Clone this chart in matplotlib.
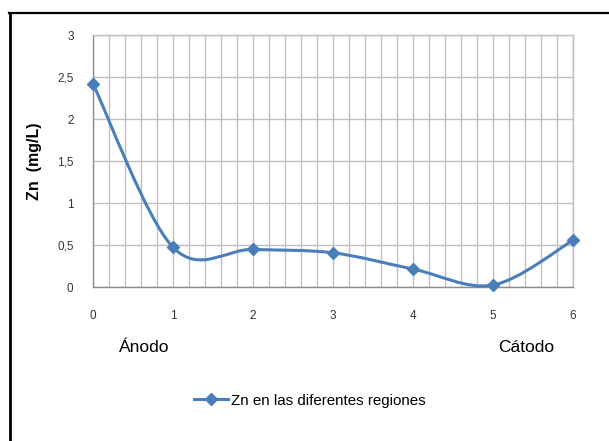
import numpy as np
import matplotlib
matplotlib.use('Agg')
import matplotlib.pyplot as plt
from matplotlib.path import Path
from matplotlib.patches import PathPatch
from matplotlib.lines import Line2D

plt.rcParams['font.family'] = ['Liberation Sans', 'DejaVu Sans']

######################################################################
## data
regiones = [0, 1, 2, 3, 4, 5, 6]
zn = [2.42, 0.476, 0.45, 0.41, 0.217, 0.027, 0.56]
xTicks = [0, 1, 2, 3, 4, 5, 6]
yTicks = [0, 0.5, 1, 1.5, 2, 2.5, 3]
yTickLabels = ['0', '0,5', '1', '1,5', '2', '2,5', '3']
serieName = 'Zn en las diferentes regiones'

LINECOLOR = '#4a7ebb'
GRIDCOLOR = '#bfbfbf'

######################################################################
## excel-like smoothed line (catmull-rom bezier)
def smoothPath(xs, ys):
    pts = np.column_stack([xs, ys]).astype(float)
    n = len(pts)
    verts = [pts[0]]
    codes = [Path.MOVETO]
    for i in range(n - 1):
        p0 = pts[i - 1] if i > 0 else pts[i]
        p1 = pts[i]
        p2 = pts[i + 1]
        p3 = pts[i + 2] if i + 2 < n else pts[i + 1]
        c1 = p1 + (p2 - p0) / 6.0
        c2 = p2 - (p3 - p1) / 6.0
        verts += [c1, c2, p2]
        codes += [Path.CURVE4, Path.CURVE4, Path.CURVE4]
    return Path(verts, codes)

######################################################################
## figure
fig = plt.figure(figsize=(6.09, 4.41), dpi=100)
ax = fig.add_axes([0.1527, 0.3485, 0.7882, 0.5721])

ax.set_xlim(0, 6)
ax.set_ylim(0, 3)

# grid: vertical every 0.2, horizontal every 0.5
for gx in np.arange(0, 6.01, 0.2):
    ax.axvline(gx, color=GRIDCOLOR, lw=1.0, zorder=1)
for gy in yTicks:
    ax.axhline(gy, color=GRIDCOLOR, lw=1.0, zorder=1)

for side in ['top', 'right']:
    ax.spines[side].set_color(GRIDCOLOR)
for side in ['left', 'bottom']:
    ax.spines[side].set_color('#8c8c8c')
for s in ax.spines.values():
    s.set_linewidth(1.0)

patch = PathPatch(smoothPath(regiones, zn), facecolor='none', edgecolor=LINECOLOR,
                  lw=2.2, zorder=3, capstyle='round', joinstyle='round', clip_on=False)
ax.add_patch(patch)
ax.plot(regiones, zn, linestyle='none', marker='D', markersize=6.5,
        color=LINECOLOR, zorder=4, clip_on=False)

ax.set_xticks(xTicks)
ax.set_xticklabels([str(t) for t in xTicks])
ax.set_yticks(yTicks)
ax.set_yticklabels(yTickLabels)
ax.tick_params(axis='both', length=0, labelsize=8.5, labelcolor='#333333')
ax.tick_params(axis='y', pad=14)
ax.tick_params(axis='x', pad=16)

ax.set_ylabel('Zn  (mg/L)', fontsize=11.5, fontweight='bold')
ax.yaxis.set_label_coords(-0.106, 0.5)

fig.text(0.2365, 0.213, 'Ánodo', fontsize=12.5, ha='center', va='center')
fig.text(0.8637, 0.213, 'Cátodo', fontsize=12.5, ha='center', va='center')

# legend
handle = Line2D([], [], color=LINECOLOR, lw=2.2, marker='D', markersize=6.5)
fig.legend([handle], [serieName], loc='center', bbox_to_anchor=(0.508, 0.0914),
           frameon=False, fontsize=10.9, handlelength=2.3, handletextpad=0.15)

# outer chart frame (right/bottom edges are off the picture)
fig.add_artist(Line2D([0.0164, 0.0164], [0, 0.9705], color='black', lw=2.0,
                      transform=fig.transFigure))
fig.add_artist(Line2D([0.0148, 1.0], [0.9705, 0.9705], color='black', lw=1.6,
                      transform=fig.transFigure))

fig.savefig('out.png', dpi=100)
